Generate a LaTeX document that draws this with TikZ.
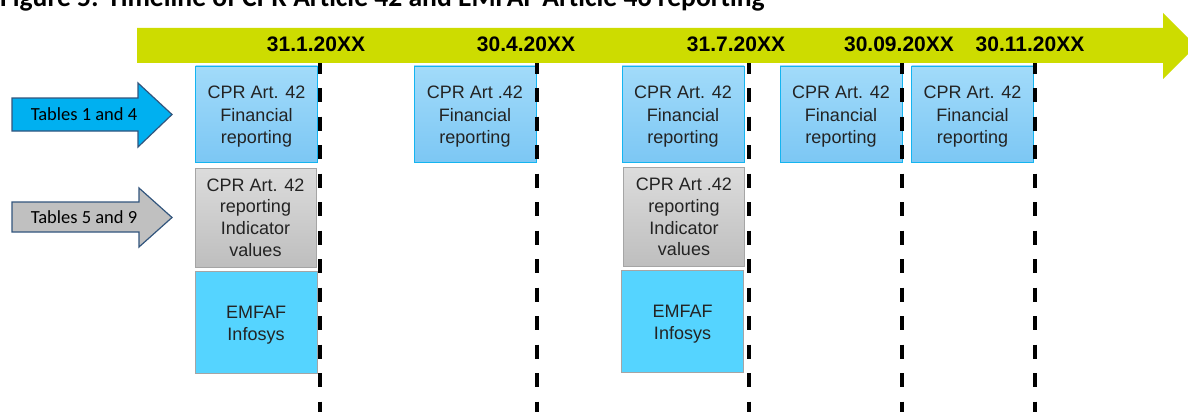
\documentclass[tikz,border=0pt]{standalone}
\usepackage{fontspec}
\setmainfont{Liberation Sans}
\newfontfamily\calfont{Carlito}
\usetikzlibrary{positioning}

\definecolor{barGreen}{RGB}{205,220,0}
\definecolor{finTop}{RGB}{162,219,250}
\definecolor{finBot}{RGB}{124,199,244}
\definecolor{finEdge}{RGB}{20,180,240}
\definecolor{indTop}{RGB}{220,220,220}
\definecolor{indBot}{RGB}{190,190,190}
\definecolor{indEdge}{RGB}{165,165,165}
\definecolor{infoBlue}{RGB}{85,212,255}
\definecolor{arrBlue}{RGB}{0,176,240}
\definecolor{arrGray}{RGB}{192,192,192}
\definecolor{arrEdge}{RGB}{50,85,125}
\definecolor{boxText}{RGB}{35,35,35}
\newcommand{\topstrut}{\rule{0pt}{18pt}}

\begin{document}
\begin{tikzpicture}[x=1pt,y=-1pt,
  finbox/.style={draw=finEdge,top color=finTop,bottom color=finBot,
    minimum width=122pt,minimum height=96pt,inner sep=0pt,align=center,
    text=boxText,font=\fontsize{18}{22.5}\selectfont},
  indbox/.style={draw=indEdge,top color=indTop,bottom color=indBot,
    minimum width=121pt,minimum height=99pt,inner sep=0pt,align=center,
    text=boxText,font=\fontsize{18}{21.7}\selectfont},
  infobox/.style={draw=indEdge,fill=infoBlue,
    minimum width=122pt,minimum height=102pt,inner sep=0pt,align=center,
    text=boxText,font=\fontsize{18}{22}\selectfont},
  datelbl/.style={anchor=base,inner sep=0pt,font=\fontsize{21}{24}\selectfont\bfseries},
  dateline/.style={line width=4pt,dash pattern=on 14pt off 14.5pt},
  tablbl/.style={inner sep=0pt,font=\calfont\fontsize{18.5}{22}\selectfont}]
\path[use as bounding box] (0,0) rectangle (1188,412);
\clip (0,0) rectangle (1188,412);

\node[anchor=base west,inner sep=0pt,font=\calfont\bfseries\fontsize{27.6}{30}\selectfont]
  (title) at (0,7) {Figure 5: Timeline of CPR Article 42 and EMFAF Article 46 reporting};

% reporting boxes
\node[finbox] (fin1) at (256.5,114) {\topstrut CPR Art. 42\\Financial\\reporting};
\node[finbox] (fin2) at (475,114) {\topstrut CPR Art .42\\Financial\\reporting};
\node[finbox] (fin3) at (683,114) {\topstrut CPR Art. 42\\Financial\\reporting};
\node[finbox] (fin4) at (841,114) {\topstrut CPR Art. 42\\Financial\\reporting};
\node[finbox] (fin5) at (972.5,114) {\topstrut CPR Art. 42\\Financial\\reporting};
\node[indbox] (ind1) at (255.5,217.5) {CPR Art. 42\\reporting\\Indicator\\values};
\node[indbox] (ind3) at (684,217) {CPR Art .42\\reporting\\Indicator\\values};
\node[infobox] (info1) at (256,322) {\topstrut EMFAF\\Infosys};
\node[infobox] (info3) at (682.5,321.5) {\topstrut EMFAF\\Infosys};

% deadlines
\foreach \x in {320,537,749,902,1035}{
  \draw[dateline] (\x,59.5) -- (\x,412);
}
\fill[barGreen] (137,28) -- (1163,28) -- (1163,13) -- (1196,46)
  -- (1163,79) -- (1163,63) -- (137,63) -- cycle;
\foreach \x/\d in {316/31.1.20XX,526/30.4.20XX,736/31.7.20XX,899/30.09.20XX,1030/30.11.20XX}{
  \node[datelbl] at (\x,52) {\d};
}

% input tables
\draw[arrEdge,fill=arrBlue,line width=1.2pt] (12,98) -- (138,98) -- (138,83) -- (172,114.5)
  -- (138,147) -- (138,131) -- (12,131) -- cycle;
\draw[arrEdge,fill=arrGray,line width=1.2pt] (12,202) -- (139,202) -- (139,188) -- (172,217.5)
  -- (139,247) -- (139,232) -- (12,232) -- cycle;
\node[tablbl] (tab14) at (84,114.5) {Tables 1 and 4};
\node[tablbl] (tab59) at (84,217) {Tables 5 and 9};
\end{tikzpicture}
\end{document}
